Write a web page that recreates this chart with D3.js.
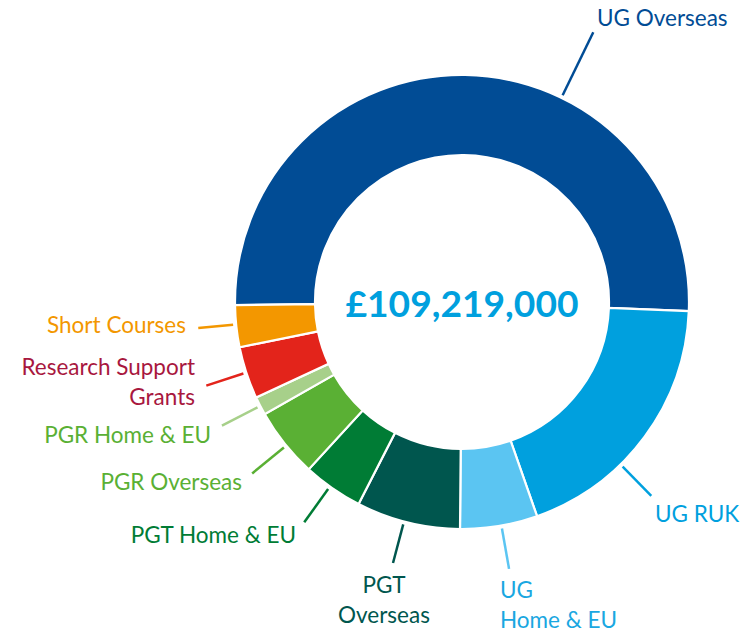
<!DOCTYPE html>
<html>
<head>
<meta charset="utf-8">
<script src="https://cdn.jsdelivr.net/npm/d3@7"></script>
<style>
  body { margin: 0; background: #fff; }
  text { font-family: Lato, "Open Sans", sans-serif; }
</style>
</head>
<body>
<div id="chart"></div>
<script>
// income sources, in £ thousands
const categories = ["UG Overseas", "UG RUK", "UG Home & EU", "PGT Overseas", "PGT Home & EU",
    "PGR Overseas", "PGR Home & EU", "Research Support Grants", "Short Courses"];
const values = [55550, 20750, 6010, 8070, 4670, 5430, 1430, 4060, 3249];
const totalLabel = "£109,219,000";

const sliceColors = ["#014c95", "#00a0de", "#5bc5f2", "#00564e", "#007c35",
    "#5ab034", "#a7d08a", "#e3241b", "#f39700"];
const textColors = ["#014c95", "#00a0de", "#1aa7e1", "#00564e", "#007c35",
    "#5ab034", "#5ab034", "#a8173e", "#f39700"];

// label placement: extra angle from slice middle (deg), line end radius, text spot
const labelLayout = [
    { da: 25.2, r2: 300, x: 597, y: 26, anchor: "start", lines: ["UG Overseas"] },
    { da: 9.2, r2: 271, x: 655, y: 522, anchor: "start", lines: ["UG RUK"] },
    { da: -0.6, r2: 271, x: 500, y: 598, anchor: "start", lines: ["UG", "Home & EU"] },
    { da: 1, r2: 270, x: 384, y: 593, anchor: "middle", lines: ["PGT", "Overseas"] },
    { da: 0.8, r2: 271, x: 296, y: 543, anchor: "end", lines: ["PGT Home & EU"] },
    { da: -0.7, r2: 271, x: 242, y: 490, anchor: "end", lines: ["PGR Overseas"] },
    { da: 0, r2: 270, x: 211, y: 443, anchor: "end", lines: ["PGR Home & EU"] },
    { da: 0.1, r2: 269, x: 195, y: 375, anchor: "end", lines: ["Research Support", "Grants"] },
    { da: 0.5, r2: 265, x: 186, y: 333, anchor: "end", lines: ["Short Courses"] }
];

const svg = d3.select("#chart")
    .append("svg")
    .attr("width", 740)
    .attr("height", 631);

const cx = 462, cy = 302;
const outerR = 227, innerR = 147;
const rad = Math.PI / 180;

const g = svg.append("g").attr("transform", `translate(${cx},${cy})`);

const pie = d3.pie()
    .sort(null)
    .startAngle(-90.8 * rad)
    .endAngle(269.2 * rad);

const arcs = pie(values);

const arc = d3.arc().innerRadius(innerR).outerRadius(outerR);

g.selectAll("path.slice")
    .data(arcs)
    .join("path")
    .attr("class", "slice")
    .attr("d", arc)
    .attr("fill", (d, i) => sliceColors[i])
    .attr("stroke", "#fff")
    .attr("stroke-width", 2.2);

// leader lines
const polar = (a, r) => [r * Math.sin(a), -r * Math.cos(a)];

g.selectAll("line.leader")
    .data(arcs)
    .join("line")
    .attr("class", "leader")
    .each(function (d, i) {
        const a = (d.startAngle + d.endAngle) / 2 + labelLayout[i].da * rad;
        const p1 = polar(a, 230);
        const p2 = polar(a, labelLayout[i].r2);
        d3.select(this)
            .attr("x1", p1[0]).attr("y1", p1[1])
            .attr("x2", p2[0]).attr("y2", p2[1]);
    })
    .attr("stroke", (d, i) => sliceColors[i])
    .attr("stroke-width", 2.5);

// labels
labelLayout.forEach((l, i) => {
    const t = svg.append("text")
        .attr("x", l.x)
        .attr("y", l.y)
        .attr("text-anchor", l.anchor)
        .attr("font-size", 22.5)
        .attr("fill", textColors[i]);
    l.lines.forEach((s, j) => {
        t.append("tspan")
            .attr("x", l.x)
            .attr("dy", j === 0 ? 0 : 29.5)
            .text(s);
    });
});

// total in the middle
svg.append("text")
    .attr("x", cx)
    .attr("y", 317)
    .attr("text-anchor", "middle")
    .attr("font-size", 37)
    .attr("font-weight", "bold")
    .attr("fill", "#00a0de")
    .attr("textLength", 233)
    .attr("lengthAdjust", "spacingAndGlyphs")
    .text(totalLabel);
</script>
</body>
</html>
